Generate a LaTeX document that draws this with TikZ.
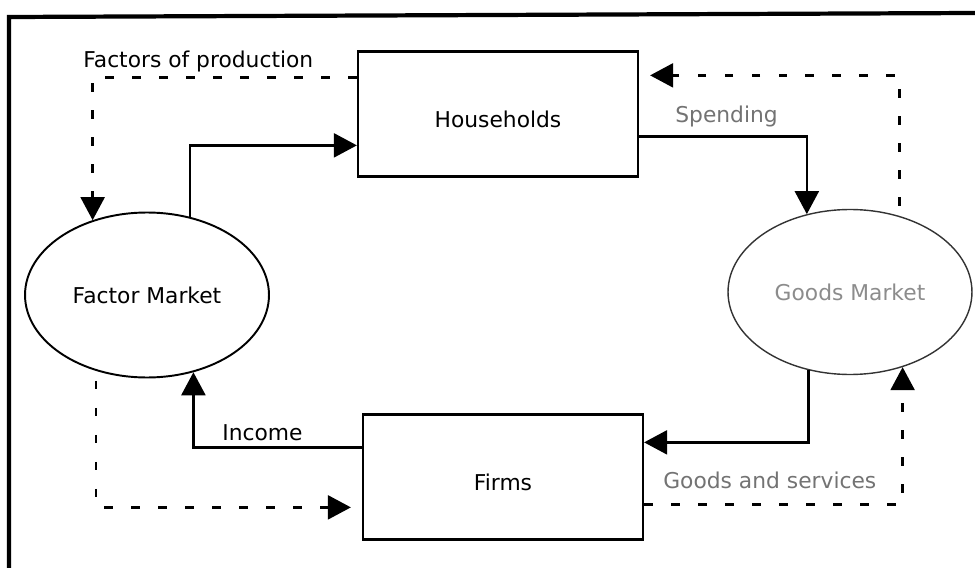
\documentclass[tikz,border=0pt]{standalone}
\usepackage{fontspec}
\setmainfont{DejaVu Sans}
\usetikzlibrary{arrows.meta,calc,shapes.geometric}

\begin{document}
\begin{tikzpicture}[x=0.02cm,y=-0.02cm,
   font=\fontsize{12.4}{14}\selectfont,
   box/.style={draw,line width=1.3pt,minimum width=5.6cm,minimum height=2.5cm,inner sep=0pt,text height=0.56cm},
   mkt/.style={ellipse,draw,line width=1.1pt,minimum width=4.88cm,minimum height=3.3cm,inner sep=0pt},
   lbl/.style={anchor=base west,inner sep=0pt},
   flow/.style={line width=1.3pt,-{Triangle[length=0.46cm,width=0.48cm]}},
   flowdash/.style={flow,dash pattern=on 0.17cm off 0.37cm}]
   \useasboundingbox (0,0) rectangle (975,568);
   \draw[line width=2.4pt] (9,568) -- (9,17) -- (975,13);
   \node[box] (hh) at (498,114) {Households};
   \node[box] (fi) at (503,477) {Firms};
   \node[mkt] (fm) at (147,295) {Factor Market};
   \node[mkt,draw=black!80,line width=0.8pt,text=black!45] (gm) at (850,292) {Goods Market};
   \draw[flowdash] ($(hh.north west)+(0,27)$) -| (fm.126);
   \draw[flow] (fm.61) |- ($(hh.north west)+(0,95)$);
   \draw[flow] ($(hh.north east)+(0,86)$) -| (gm.119);
   \draw[flowdash,shorten <=0.2cm,shorten >=0.22cm] (gm.57) |- ($(hh.north east)+(0,25)$);
   \draw[flow] (gm.242) |- ($(fi.north east)+(0,29)$);
   \draw[flowdash] ($(fi.north east)+(0,91)$) -| (gm.-55);
   \draw[flow] ($(fi.north west)+(0,34)$) -| (fm.-59);
   \draw[flowdash,shorten <=0.2cm,shorten >=0.22cm] (fm.236) |- ($(fi.north west)+(0,94)$);
   \node[lbl] (lfop) at (83,68) {Factors of production};
   \node[lbl,text=black!55] (lsp) at (675,122) {Spending};
   \node[lbl] (linc) at (222,440) {Income};
   \node[lbl,text=black!55] (lgs) at (663,488) {Goods and services};
\end{tikzpicture}
\end{document}
